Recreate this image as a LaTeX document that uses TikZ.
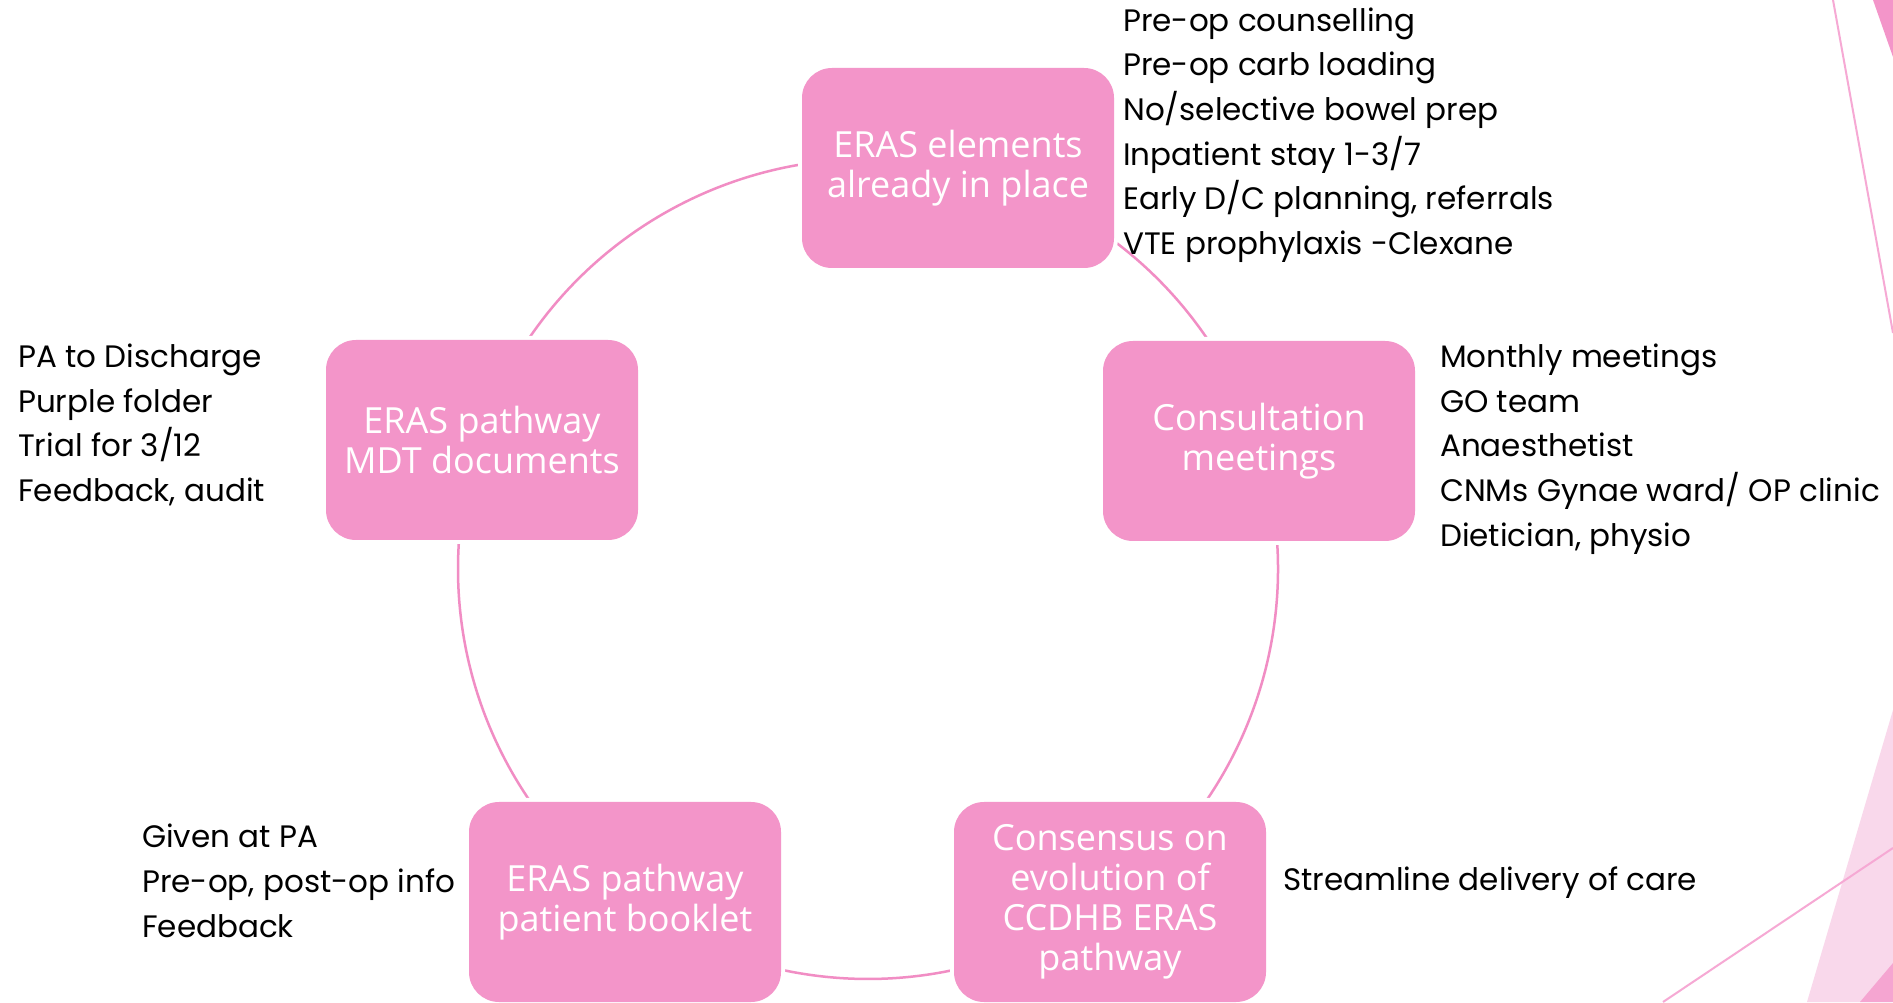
\documentclass[tikz,border=0pt]{standalone}
\usepackage{fontspec}
\setmainfont{Poppins}
\newfontfamily\boxfont{Open Sans}
\usetikzlibrary{backgrounds,calc}
\definecolor{erasPink}{HTML}{F395C9}
\definecolor{ringPink}{HTML}{F18DC4}
\definecolor{paleRose}{HTML}{F9D8EB}
\definecolor{lineRose}{HTML}{F6A9D4}

\begin{document}
\begin{tikzpicture}[x=1pt,y=1pt,color=black,
  stage/.style={rounded corners=30pt, fill=erasPink, draw=white, line width=8pt,
    postaction={fill=erasPink}, minimum width=312pt, minimum height=200pt,
    text=white, align=center, font=\boxfont\fontsize{36}{40}\selectfont},
  notes/.style={anchor=west, align=left, inner sep=0pt,
    font=\fontsize{31}{44.7}\selectfont},
  ring/.style={draw=ringPink, line width=2.5pt}]
\useasboundingbox (0,0) rectangle (1893,1002);
\coordinate (hub) at (868,433); % centre of the cycle
\node[stage] (top) at (958,834) {ERAS elements\\already in place};
\node[stage] (consult) at (1259,561) {Consultation\\meetings};
\node[stage] (consensus) at (1110,100) {Consensus on\\evolution of\\CCDHB ERAS\\pathway};
\node[stage] (booklet) at (625,100) {ERAS pathway\\patient booklet};
\node[stage] (mdt) at (482,562) {ERAS pathway\\MDT documents};

\begin{scope}[on background layer]
\fill[white] (0,0) rectangle (1893,1002);
\foreach \a/\b in {mdt/top,top/consult,consult/consensus,consensus/booklet,booklet/mdt}
  \draw[ring] let \p1=($(\a)-(hub)$), \p2=($(\b)-(hub)$),
    \n1={atan2(\y1,\x1)}, \n2={atan2(\y2,\x2)}, \n3={\n2-360*(\n2>\n1)}
    in ($(hub)+(\n1:410)$) arc[start angle=\n1, end angle=\n3, radius=410];
\end{scope}

\node[notes] (topnote) at (1123,867) {Pre-op counselling\\Pre-op carb loading\\No/selective bowel prep\\Inpatient stay 1-3/7\\Early D/C planning, referrals\\VTE prophylaxis -Clexane};
\node[notes] (consultnote) at (1440,553) {Monthly meetings\\GO team\\Anaesthetist\\CNMs Gynae ward/ OP clinic\\Dietician, physio};
\node[notes] (mdtnote) at (18,577) {PA to Discharge\\Purple folder\\Trial for 3/12\\Feedback, audit};
\node[notes] (bookletnote) at (142,121) {Given at PA\\Pre-op, post-op info\\Feedback};
\node[notes] (consensusnote) at (1283,119) {Streamline delivery of care};

% corner decoration
\fill[erasPink] (1873,1002) -- (1893,1002) -- (1893,945) -- cycle;
\draw[lineRose, line width=2pt] (1833,1002) -- (1893,669);
\fill[paleRose] (1893,292) -- (1807,0) -- (1893,0) -- cycle;
\fill[erasPink!85] (1893,39) -- (1860,0) -- (1893,0) -- cycle;
\draw[lineRose, line width=2pt] (1663,0) -- (1893,154);
\end{tikzpicture}
\end{document}
